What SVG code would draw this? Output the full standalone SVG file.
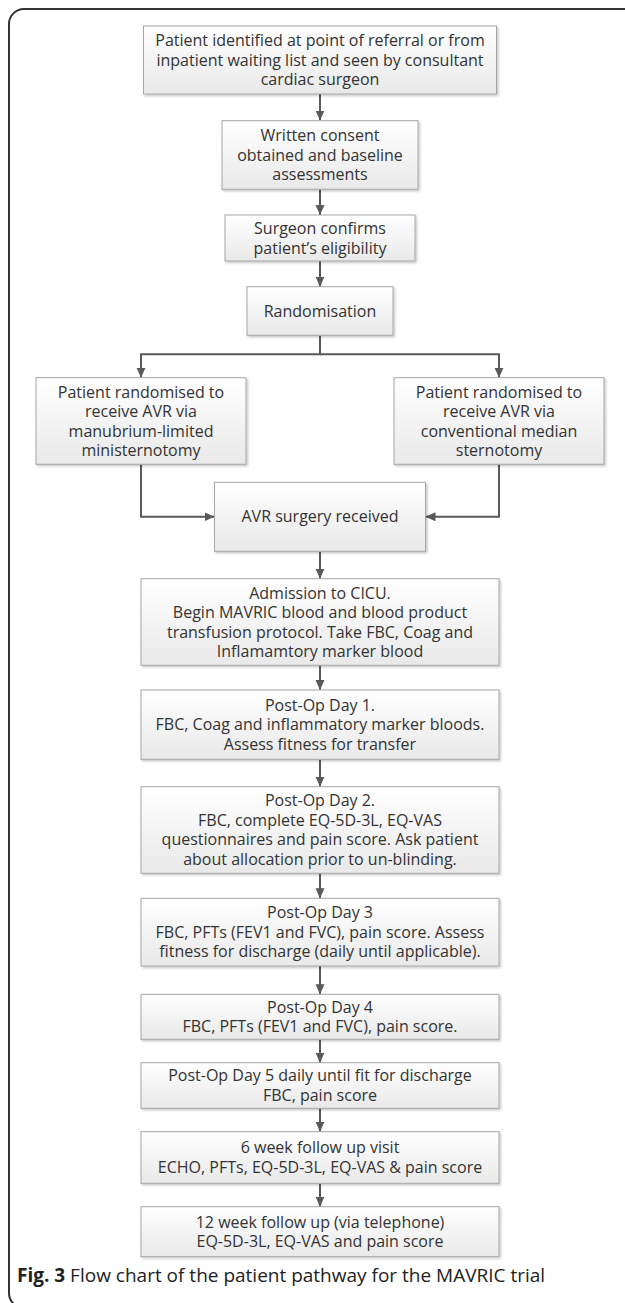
<svg xmlns="http://www.w3.org/2000/svg" width="625" height="1303" viewBox="0 0 625 1303">
<style>
.box{fill:url(#g);stroke:#a6a6a6;stroke-width:1;filter:url(#sh)}
.t{font-family:"Open Sans","Liberation Sans",sans-serif;font-size:16px;fill:#333;text-anchor:middle}
.c{fill:none;stroke:#595959;stroke-width:2}
.cap{font-family:"Open Sans","Liberation Sans",sans-serif;font-size:19px;fill:#222}
</style>
<defs>
<linearGradient id="g" x1="0" y1="0" x2="0" y2="1"><stop offset="0" stop-color="#ffffff"/><stop offset="1" stop-color="#e9e9e9"/></linearGradient>
<filter id="sh" x="-5%" y="-10%" width="115%" height="130%"><feDropShadow dx="1.5" dy="1.5" stdDeviation="1" flood-color="#000" flood-opacity="0.22"/></filter>
<marker id="ah" markerUnits="userSpaceOnUse" markerWidth="10" markerHeight="10" refX="10" refY="4.5" orient="auto"><path d="M0,0 L10,4.5 L0,9 z" fill="#595959"/></marker>
</defs>
<path d="M626 9 H24 A15 15 0 0 0 9 24 V1293 A15 15 0 0 0 24 1308 H626" fill="none" stroke="#333" stroke-width="2"/>
<g id="connectors">
<line class="c" x1="320" y1="94" x2="320" y2="120.5" marker-end="url(#ah)"/>
<line class="c" x1="320" y1="189.3" x2="320" y2="215" marker-end="url(#ah)"/>
<line class="c" x1="320" y1="261" x2="320" y2="286.7" marker-end="url(#ah)"/>
<polyline class="c" points="320,335.3 320,354.3 141,354.3 141,377.7" marker-end="url(#ah)"/>
<polyline class="c" points="320,354.3 499,354.3 499,377.7" marker-end="url(#ah)"/>
<polyline class="c" points="141,464.3 141,516.8 214.5,516.8" marker-end="url(#ah)"/>
<polyline class="c" points="499,464.3 499,516.8 425.5,516.8" marker-end="url(#ah)"/>
<line class="c" x1="320" y1="551.3" x2="320" y2="578.7" marker-end="url(#ah)"/>
<line class="c" x1="320" y1="665.3" x2="320" y2="690" marker-end="url(#ah)"/>
<line class="c" x1="320" y1="759.3" x2="320" y2="786.7" marker-end="url(#ah)"/>
<line class="c" x1="320" y1="873.3" x2="320" y2="898.3" marker-end="url(#ah)"/>
<line class="c" x1="320" y1="966" x2="320" y2="994.3" marker-end="url(#ah)"/>
<line class="c" x1="320" y1="1039.3" x2="320" y2="1062.7" marker-end="url(#ah)"/>
<line class="c" x1="320" y1="1108.3" x2="320" y2="1131.7" marker-end="url(#ah)"/>
<line class="c" x1="320" y1="1183.3" x2="320" y2="1206.7" marker-end="url(#ah)"/>
</g>
<g id="n1"><rect class="box" x="143.5" y="26" width="353" height="68"/>
<text class="t" x="320" y="46">Patient identified at point of referral or from</text>
<text class="t" x="320" y="65.5">inpatient waiting list and seen by consultant</text>
<text class="t" x="320" y="85">cardiac surgeon</text></g>
<g id="n2"><rect class="box" x="222" y="120.7" width="196" height="68.6"/>
<text class="t" x="320" y="141">Written consent</text>
<text class="t" x="320" y="160.5">obtained and baseline</text>
<text class="t" x="320" y="180">assessments</text></g>
<g id="n3"><rect class="box" x="225" y="215" width="190" height="46"/>
<text class="t" x="320" y="234.3">Surgeon confirms</text>
<text class="t" x="320" y="253.8">patient’s eligibility</text></g>
<g id="n4"><rect class="box" x="247" y="286.7" width="146" height="48.6"/>
<text class="t" x="320" y="316.5">Randomisation</text></g>
<g id="n5"><rect class="box" x="36" y="377.7" width="210" height="86.6"/>
<text class="t" x="141" y="397.5">Patient randomised to</text>
<text class="t" x="141" y="417">receive AVR via</text>
<text class="t" x="141" y="436.5">manubrium-limited</text>
<text class="t" x="141" y="456">ministernotomy</text></g>
<g id="n6"><rect class="box" x="394" y="377.7" width="210" height="86.6"/>
<text class="t" x="499" y="397.5">Patient randomised to</text>
<text class="t" x="499" y="417">receive AVR via</text>
<text class="t" x="499" y="436.5">conventional median</text>
<text class="t" x="499" y="456">sternotomy</text></g>
<g id="n7"><rect class="box" x="214.5" y="482.3" width="211" height="69"/>
<text class="t" x="320" y="522.3">AVR surgery received</text></g>
<g id="n8"><rect class="box" x="141" y="578.7" width="358" height="86.6"/>
<text class="t" x="320" y="598.5">Admission to CICU.</text>
<text class="t" x="320" y="618">Begin MAVRIC blood and blood product</text>
<text class="t" x="320" y="637.5">transfusion protocol. Take FBC, Coag and</text>
<text class="t" x="320" y="657">Inflamamtory marker blood</text></g>
<g id="n9"><rect class="box" x="141" y="690" width="358" height="69.3"/>
<text class="t" x="320" y="710.5">Post-Op Day 1.</text>
<text class="t" x="320" y="730">FBC, Coag and inflammatory marker bloods.</text>
<text class="t" x="320" y="749.5">Assess fitness for transfer</text></g>
<g id="n10"><rect class="box" x="141" y="786.7" width="358" height="86.6"/>
<text class="t" x="320" y="806.3">Post-Op Day 2.</text>
<text class="t" x="320" y="825.8">FBC, complete EQ-5D-3L, EQ-VAS</text>
<text class="t" x="320" y="845.3">questionnaires and pain score. Ask patient</text>
<text class="t" x="320" y="864.8">about allocation prior to un-blinding.</text></g>
<g id="n11"><rect class="box" x="141" y="898.3" width="358" height="67.7"/>
<text class="t" x="320" y="918">Post-Op Day 3</text>
<text class="t" x="320" y="937.5">FBC, PFTs (FEV1 and FVC), pain score. Assess</text>
<text class="t" x="320" y="957">fitness for discharge (daily until applicable).</text></g>
<g id="n12"><rect class="box" x="141" y="994.3" width="358" height="45"/>
<text class="t" x="320" y="1012.5">Post-Op Day 4</text>
<text class="t" x="320" y="1032">FBC, PFTs (FEV1 and FVC), pain score.</text></g>
<g id="n13"><rect class="box" x="141" y="1062.7" width="358" height="45.6"/>
<text class="t" x="320" y="1081.2">Post-Op Day 5 daily until fit for discharge</text>
<text class="t" x="320" y="1100.7">FBC, pain score</text></g>
<g id="n14"><rect class="box" x="141" y="1131.7" width="358" height="51.6"/>
<text class="t" x="320" y="1153.3">6 week follow up visit</text>
<text class="t" x="320" y="1172.8">ECHO, PFTs, EQ-5D-3L, EQ-VAS &amp; pain score</text></g>
<g id="n15"><rect class="box" x="141" y="1206.7" width="358" height="50"/>
<text class="t" x="320" y="1227.5">12 week follow up (via telephone)</text>
<text class="t" x="320" y="1247">EQ-5D-3L, EQ-VAS and pain score</text></g>
<text class="cap" x="17" y="1282"><tspan font-weight="bold">Fig. 3</tspan> Flow chart of the patient pathway for the MAVRIC trial</text>
</svg>
